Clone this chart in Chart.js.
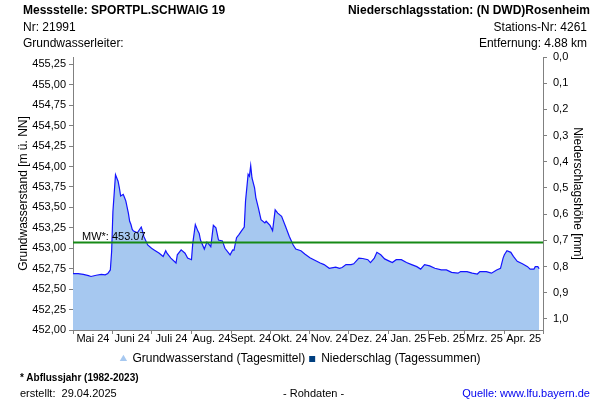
<!DOCTYPE html>
<html>
<head>
<meta charset="utf-8">
<script src="https://cdn.jsdelivr.net/npm/chart.js@4.4.1/dist/chart.umd.min.js"></script>
<style>
  body { margin: 0; background: #fff; }
  #wrap { position: relative; width: 600px; height: 400px; font-family: "Liberation Sans", Arial, sans-serif; color: #000; }
  canvas { position: absolute; left: 0; top: 0; }
  .t { position: absolute; white-space: nowrap; font-size: 12px; line-height: 16px; }
  .b { font-weight: bold; }
</style>
</head>
<body>
<div id="wrap">
  <canvas id="chart" width="600" height="400"></canvas>
  <div class="t b" style="left:23px; top:2px;">Messstelle: SPORTPL.SCHWAIG 19</div>
  <div class="t" style="left:23px; top:19px;">Nr: 21991</div>
  <div class="t" style="left:23px; top:35px;">Grundwasserleiter:</div>
  <div class="t b" style="right:10px; top:2px;">Niederschlagsstation: (N DWD)Rosenheim</div>
  <div class="t" style="right:13px; top:19px;">Stations-Nr: 4261</div>
  <div class="t" style="right:13px; top:35px;">Entfernung: 4.88 km</div>
  <div class="t b" style="left:20px; top:370px; font-size:10px;">* Abflussjahr (1982-2023)</div>
  <div class="t" style="left:20px; top:385px; font-size:11px;">erstellt:&nbsp; 29.04.2025</div>
  <div class="t" style="left:283px; top:385px; font-size:11px;">- Rohdaten -</div>
  <div class="t" style="right:10px; top:385px; font-size:11px; color:#0000ee;">Quelle: www.lfu.bayern.de</div>
</div>
<script>
// daily mean groundwater level
const dates = [
  '2024-05-01','2024-05-05','2024-05-09','2024-05-13','2024-05-15','2024-05-19','2024-05-23','2024-05-26','2024-05-28','2024-05-30',
  '2024-05-31','2024-06-01','2024-06-03','2024-06-05','2024-06-06','2024-06-07','2024-06-09','2024-06-10','2024-06-11','2024-06-13',
  '2024-06-14','2024-06-15','2024-06-16','2024-06-17','2024-06-20','2024-06-23','2024-06-24','2024-06-25','2024-06-28','2024-07-01',
  '2024-07-03','2024-07-07','2024-07-10','2024-07-12','2024-07-13','2024-07-16','2024-07-20','2024-07-21','2024-07-24','2024-07-27',
  '2024-07-29','2024-08-01','2024-08-02','2024-08-04','2024-08-06','2024-08-07','2024-08-08','2024-08-11','2024-08-13','2024-08-14',
  '2024-08-16','2024-08-18','2024-08-20','2024-08-22','2024-08-25','2024-08-27','2024-08-31','2024-09-02','2024-09-03','2024-09-05',
  '2024-09-07','2024-09-09','2024-09-11','2024-09-12','2024-09-14','2024-09-15','2024-09-16','2024-09-17','2024-09-19','2024-09-20',
  '2024-09-22','2024-09-24','2024-09-27','2024-09-28','2024-10-01','2024-10-03','2024-10-05','2024-10-07','2024-10-10','2024-10-13',
  '2024-10-16','2024-10-19','2024-10-21','2024-10-25','2024-10-28','2024-11-01','2024-11-04','2024-11-09','2024-11-12','2024-11-16',
  '2024-11-21','2024-11-24','2024-11-26','2024-11-29','2024-12-03','2024-12-05','2024-12-09','2024-12-12','2024-12-16','2024-12-18',
  '2024-12-21','2024-12-23','2024-12-26','2024-12-29','2025-01-02','2025-01-04','2025-01-07','2025-01-11','2025-01-15','2025-01-19',
  '2025-01-23','2025-01-26','2025-01-29','2025-02-02','2025-02-06','2025-02-11','2025-02-15','2025-02-19','2025-02-24','2025-02-26',
  '2025-03-03','2025-03-07','2025-03-11','2025-03-13','2025-03-18','2025-03-22','2025-03-26','2025-03-29','2025-03-31','2025-04-01',
  '2025-04-03','2025-04-06','2025-04-08','2025-04-11','2025-04-15','2025-04-19','2025-04-21','2025-04-24','2025-04-25','2025-04-27',
  '2025-04-28'
];
const levels = [
  452.69, 452.69, 452.68, 452.665, 452.655, 452.67, 452.68, 452.675, 452.69, 452.735,
  452.96, 453.45, 453.90, 453.82, 453.74, 453.64, 453.66, 453.62, 453.58, 453.43,
  453.33, 453.29, 453.23, 453.21, 453.19, 453.26, 453.21, 453.145, 453.04, 453.00,
  452.98, 452.94, 452.90, 452.97, 452.94, 452.88, 452.82, 452.92, 452.98, 452.94,
  452.88, 452.86, 453.06, 453.29, 453.21, 453.18, 453.10, 452.99, 453.075, 453.06,
  453.02, 453.28, 453.25, 453.10, 453.09, 453.00, 452.92, 452.98, 452.975, 453.13,
  453.17, 453.215, 453.26, 453.58, 453.905, 453.88, 454.01, 453.86, 453.74, 453.62,
  453.49, 453.35, 453.31, 453.33, 453.28, 453.215, 453.47, 453.43, 453.39, 453.27,
  453.145, 453.04, 452.99, 452.97, 452.93, 452.885, 452.86, 452.82, 452.80, 452.755,
  452.77, 452.755, 452.765, 452.80, 452.80, 452.81, 452.88, 452.875, 452.86, 452.825,
  452.88, 452.95, 452.92, 452.87, 452.84, 452.825, 452.86, 452.86, 452.825, 452.80,
  452.775, 452.745, 452.80, 452.785, 452.755, 452.735, 452.735, 452.705, 452.695, 452.715,
  452.715, 452.695, 452.685, 452.715, 452.715, 452.695, 452.735, 452.755, 452.88, 452.92,
  452.97, 452.95, 452.90, 452.84, 452.81, 452.775, 452.745, 452.745, 452.775, 452.775,
  452.75
];
// daily precipitation sums: none shown in the reference
const rainDates = [];
const rain = [];

const meanLevel = 453.07;
const monthStarts = ['2024-05-01','2024-06-01','2024-07-01','2024-08-01','2024-09-01','2024-10-01','2024-11-01',
  '2024-12-01','2025-01-01','2025-02-01','2025-03-01','2025-04-01','2025-05-01'];
const monthLabels = ['Mai 24','Juni 24','Juli 24','Aug. 24','Sept. 24','Okt. 24','Nov. 24','Dez. 24',
  'Jan. 25','Feb. 25','Mrz. 25','Apr. 25'];
const levelTicks = [452.00, 452.25, 452.50, 452.75, 453.00, 453.25, 453.50, 453.75, 454.00, 454.25, 454.50, 454.75, 455.00, 455.25];
const rainTicks = [0.0, 0.1, 0.2, 0.3, 0.4, 0.5, 0.6, 0.7, 0.8, 0.9, 1.0];
const levelMin = 452.00, levelMax = 455.34;
const rainMin = 0, rainMax = 1.042;

const t0 = Date.parse(monthStarts[0]);
const dayOf = d => (Date.parse(d) - t0) / 864e5;

const bounds = monthStarts.map(dayOf);
const labelAt = new Map();
monthLabels.forEach((l, i) => labelAt.set((bounds[i] + bounds[i + 1]) / 2, l));
const xTicks = [...bounds, ...labelAt.keys()].sort((a, b) => a - b);

const grey = '#808080';
Chart.defaults.font.family = '"Liberation Sans", Arial, sans-serif';
Chart.defaults.font.size = 11;
Chart.defaults.color = '#000';

const meanLabel = {
  id: 'meanLabel',
  afterDatasetsDraw(chart) {
    const { ctx, chartArea, scales } = chart;
    const y = scales.y.getPixelForValue(meanLevel);
    ctx.save();
    ctx.font = '11px "Liberation Sans", Arial, sans-serif';
    ctx.fillStyle = '#000';
    ctx.textBaseline = 'alphabetic';
    ctx.fillText('MW*: ' + meanLevel.toFixed(2), chartArea.left + 9, y - 3);
    ctx.restore();
  }
};

new Chart(document.getElementById('chart'), {
  type: 'line',
  data: {
    datasets: [
      {
        label: 'Grundwasserstand (Tagesmittel)',
        data: dates.map((d, i) => ({ x: dayOf(d), y: levels[i] })),
        borderColor: '#1414ff',
        borderWidth: 1.2,
        backgroundColor: '#a6c8f0',
        fill: 'start',
        pointRadius: 0,
        pointStyle: 'triangle',
        tension: 0,
        yAxisID: 'y',
        order: 1
      },
      {
        type: 'bar',
        label: 'Niederschlag (Tagessummen)',
        data: rainDates.map((d, i) => ({ x: dayOf(d), y: rain[i] })),
        backgroundColor: '#003f7f',
        pointStyle: 'rect',
        yAxisID: 'y2',
        order: 2
      },
      {
        label: 'MW',
        data: [{ x: bounds[0], y: meanLevel }, { x: bounds[bounds.length - 1], y: meanLevel }],
        borderColor: '#168a16',
        borderWidth: 2,
        pointRadius: 0,
        fill: false,
        yAxisID: 'y',
        order: 0
      }
    ]
  },
  options: {
    responsive: false,
    animation: false,
    devicePixelRatio: 1,
    layout: { padding: { left: 12, right: 11, top: 57, bottom: 25 } },
    plugins: {
      tooltip: { enabled: false },
      legend: {
        position: 'bottom',
        labels: {
          font: { size: 12 },
          padding: 4,
          boxWidth: 6,
          boxHeight: 6,
          usePointStyle: true,
          filter: item => item.text !== 'MW',
          generateLabels(chart) {
            const items = Chart.defaults.plugins.legend.labels.generateLabels(chart);
            items.forEach(it => { it.strokeStyle = it.fillStyle; it.lineWidth = 0; });
            return items;
          }
        }
      }
    },
    scales: {
      x: {
        type: 'linear',
        offset: false,
        min: bounds[0],
        max: bounds[bounds.length - 1],
        afterBuildTicks: s => { s.ticks = xTicks.map(v => ({ value: v })); },
        afterFit: s => { s.height = 19; },
        ticks: {
          autoSkip: false,
          maxRotation: 0,
          padding: -2,
          callback: v => labelAt.get(v) ?? ''
        },
        grid: {
          offset: false,
          drawOnChartArea: false,
          tickLength: 4,
          color: grey,
          tickColor: c => (c.tick && labelAt.has(c.tick.value)) ? 'rgba(0,0,0,0)' : grey
        },
        border: { color: grey }
      },
      y: {
        position: 'left',
        min: levelMin,
        max: levelMax,
        afterBuildTicks: s => { s.ticks = levelTicks.map(v => ({ value: v })); },
        afterFit: s => { s.width = 61; },
        ticks: { padding: 3, callback: v => v.toFixed(2).replace('.', ',') },
        grid: { drawOnChartArea: false, tickLength: 4, color: grey },
        border: { color: grey },
        title: { display: true, text: 'Grundwasserstand [m ü. NN]', font: { size: 12 }, padding: 4 }
      },
      y2: {
        position: 'right',
        reverse: true,
        min: rainMin,
        max: rainMax,
        afterBuildTicks: s => { s.ticks = rainTicks.map(v => ({ value: v })); },
        afterFit: s => { s.width = 46; },
        ticks: { padding: 6, callback: v => v.toFixed(1).replace('.', ',') },
        grid: { drawOnChartArea: false, tickLength: 4, color: grey },
        border: { color: grey },
        title: { display: true, text: 'Niederschlagshöhe [mm]', font: { size: 12 }, padding: 4 }
      }
    }
  },
  plugins: [meanLabel]
});
</script>
</body>
</html>
